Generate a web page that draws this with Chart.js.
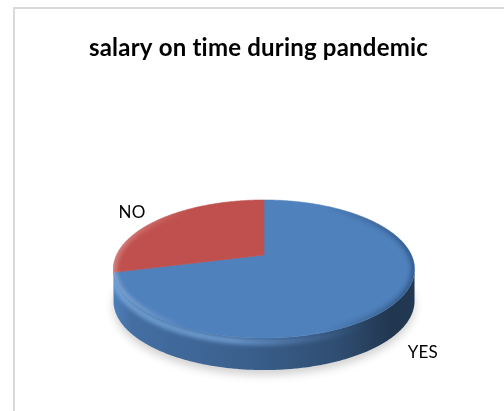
<!DOCTYPE html>
<html>
<head>
<meta charset="utf-8">
<script src="https://cdn.jsdelivr.net/npm/chart.js@4/dist/chart.umd.min.js"></script>
<style>
  html, body { margin: 0; padding: 0; background: #ffffff; }
  #wrap { position: relative; width: 504px; height: 411px; overflow: hidden; }
  #frame { position: absolute; left: 13px; top: 7px; right: -10px; bottom: -10px;
           border-top: 2px solid #d9d9d9; border-left: 2px solid #d9d9d9; }
  canvas { position: absolute; left: 0; top: 0; }
</style>
</head>
<body>
<div id="wrap">
  <div id="frame"></div>
  <canvas id="c" width="504" height="411"></canvas>
</div>
<script>
// Survey answers
const categories = ['YES', 'NO'];
const shares = [71, 29];
const sliceColors = ['#4F81BD', '#C0504D'];
const chartTitle = 'salary on time during pandemic';

// Look of the tilted, extruded pie (screen geometry)
const tilt = {
  cx: 264,      // projected pie centre x
  cy: 255,      // projected pie centre y
  rx: 147.4,    // horizontal radius factor
  ry: 66.2,     // vertical radius factor
  persp: 0.203, // perspective strength
  depth: 32,    // height of the side wall
  labelGap: 30
};

function project(a, dz) {
  const u = Math.cos(a), v = Math.sin(a);
  const w = 1 - tilt.persp * v;
  return [tilt.cx + tilt.rx * u / w, tilt.cy + tilt.ry * v / w + (dz || 0)];
}

function rimPath(ctx, a1, a2, dz, move) {
  const n = Math.max(2, Math.ceil(Math.abs(a2 - a1) / 0.01));
  for (let i = 0; i <= n; i++) {
    const p = project(a1 + (a2 - a1) * i / n, dz);
    if (i === 0 && move) ctx.moveTo(p[0], p[1]); else ctx.lineTo(p[0], p[1]);
  }
}

function hexRgb(hex) {
  const n = parseInt(hex.slice(1), 16);
  return [(n >> 16) & 255, (n >> 8) & 255, n & 255];
}
function shade(hex, f) {
  const c = hexRgb(hex).map(x => Math.max(0, Math.min(255, Math.round(x * f))));
  return 'rgb(' + c.join(',') + ')';
}

// keep "t" and "i" as separate glyphs in the title
const plainLetters = {
  id: 'plainLetters',
  beforeDraw(chart) {
    if ('letterSpacing' in chart.ctx) chart.ctx.letterSpacing = '0.2px';
  }
};

const pie3d = {
  id: 'pie3d',
  beforeDatasetsDraw(chart) {
    const ctx = chart.ctx;
    const meta = chart.getDatasetMeta(0);
    const arcs = meta.data;
    const colors = chart.data.datasets[0].backgroundColor;
    const phi0 = Math.asin(tilt.persp);
    const frontA = phi0, frontB = Math.PI - phi0;
    const xL = project(frontB, 0)[0], xR = project(frontA, 0)[0];
    const D = tilt.depth;

    ctx.save();

    // soft shadow under the disc
    ctx.save();
    ctx.filter = 'blur(4px)';
    ctx.fillStyle = 'rgba(0,0,0,0.18)';
    ctx.beginPath();
    rimPath(ctx, 0, Math.PI * 2, D + 5, true);
    ctx.closePath();
    ctx.fill();
    ctx.restore();

    // side walls of the visible front part
    arcs.forEach((arc, i) => {
      const s = arc.startAngle, e = arc.endAngle;
      [-2 * Math.PI, 0, 2 * Math.PI].forEach(shift => {
        const a1 = Math.max(s + shift, frontA), a2 = Math.min(e + shift, frontB);
        if (a2 <= a1) return;
        const base = colors[i];
        ctx.beginPath();
        rimPath(ctx, a1, a2, 0, true);
        rimPath(ctx, a2, a1, D, false);
        ctx.closePath();
        const g = ctx.createLinearGradient(xL, 0, xR, 0);
        g.addColorStop(0.00, shade(base, 0.98));
        g.addColorStop(0.06, shade(base, 0.86));
        g.addColorStop(0.45, shade(base, 0.74));
        g.addColorStop(0.75, shade(base, 0.60));
        g.addColorStop(0.93, shade(base, 0.42));
        g.addColorStop(1.00, shade(base, 0.44));
        ctx.fillStyle = g;
        ctx.fill();

        // rounded upper edge catching the light
        ctx.save();
        ctx.clip();
        ctx.filter = 'blur(2px)';
        ctx.beginPath();
        rimPath(ctx, a1, a2, 4, true);
        const h = ctx.createLinearGradient(xL, 0, xR, 0);
        h.addColorStop(0.00, 'rgba(150,200,250,0.55)');
        h.addColorStop(0.40, 'rgba(140,190,245,0.60)');
        h.addColorStop(0.65, 'rgba(110,160,220,0.30)');
        h.addColorStop(0.85, 'rgba(80,120,170,0.0)');
        ctx.strokeStyle = h;
        ctx.lineWidth = 6;
        ctx.stroke();
        ctx.restore();
      });
    });

    // top faces
    arcs.forEach((arc, i) => {
      ctx.beginPath();
      ctx.moveTo(tilt.cx, tilt.cy);
      rimPath(ctx, arc.startAngle, arc.endAngle, 0, false);
      ctx.closePath();
      ctx.fillStyle = colors[i];
      ctx.fill();
      ctx.strokeStyle = colors[i];
      ctx.lineWidth = 0.6;
      ctx.stroke();
    });

    // bevel shading along the rim of the top face
    ctx.save();
    ctx.beginPath();
    rimPath(ctx, 0, Math.PI * 2, 0, true);
    ctx.closePath();
    ctx.clip();
    ctx.filter = 'blur(2px)';
    ctx.beginPath();
    rimPath(ctx, 0, Math.PI * 2, 0, true);
    ctx.closePath();
    const r = ctx.createLinearGradient(xL, 0, xR, 0);
    r.addColorStop(0.00, 'rgba(255,255,255,0.28)');
    r.addColorStop(0.25, 'rgba(255,255,255,0.0)');
    r.addColorStop(0.70, 'rgba(0,0,0,0.0)');
    r.addColorStop(1.00, 'rgba(0,20,50,0.35)');
    ctx.strokeStyle = r;
    ctx.lineWidth = 7;
    ctx.stroke();
    ctx.restore();

    // category labels outside each slice
    ctx.fillStyle = '#000000';
    ctx.font = '17px Lato';
    ctx.textAlign = 'center';
    ctx.textBaseline = 'alphabetic';
    arcs.forEach((arc, i) => {
      const mid = (arc.startAngle + arc.endAngle) / 2;
      const front = Math.sin(mid) > 0;
      const p = project(mid, front ? D : 0);
      const dx = p[0] - tilt.cx, dy = p[1] - tilt.cy;
      const len = Math.hypot(dx, dy) || 1;
      ctx.fillText(chart.data.labels[i],
        p[0] + dx / len * tilt.labelGap,
        p[1] + dy / len * tilt.labelGap + 9);
    });

    ctx.restore();
    return false;
  }
};

new Chart(document.getElementById('c'), {
  type: 'pie',
  data: {
    labels: categories,
    datasets: [{ data: shares, backgroundColor: sliceColors, borderWidth: 0 }]
  },
  options: {
    responsive: false,
    animation: false,
    layout: { padding: { left: 13 } },
    plugins: {
      legend: { display: false },
      tooltip: { enabled: false },
      title: {
        display: true,
        text: chartTitle,
        color: '#000000',
        font: { family: 'Lato', size: 24, weight: 'bold' },
        padding: { top: 34, bottom: 0 }
      }
    }
  },
  plugins: [plainLetters, pie3d]
});
</script>
</body>
</html>
